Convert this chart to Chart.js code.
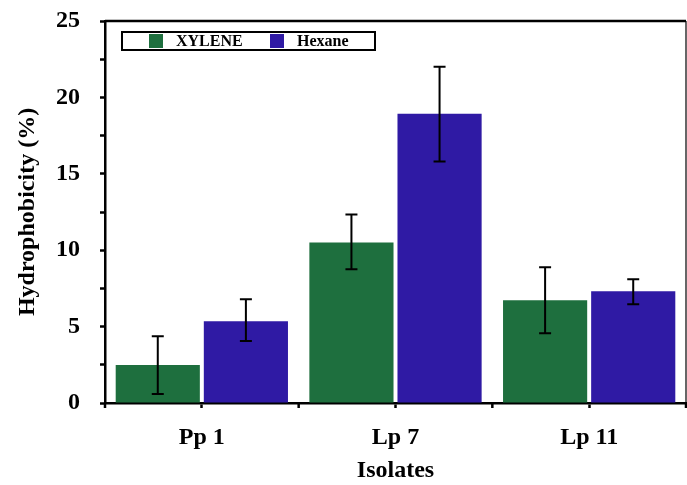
<!DOCTYPE html>
<html>
<head>
<meta charset="utf-8">
<script src="https://cdn.jsdelivr.net/npm/chart.js@4/dist/chart.umd.min.js"></script>
<style>
  html, body { margin: 0; padding: 0; background: #fff; }
  #wrap { width: 687px; height: 485px; }
</style>
</head>
<body>
<div id="wrap"><canvas id="grafico" width="687" height="485"></canvas></div>
<script>
// datos
const isolates = ['Pp 1', 'Lp 7', 'Lp 11'];
const xyleneVals = [2.48, 10.5, 6.72];
const hexaneVals = [5.35, 18.93, 7.31];
// extremos de las barras de error
const xyleneLow = [0.59, 8.75, 4.57];
const xyleneHigh = [4.37, 12.34, 8.88];
const hexaneLow = [4.05, 15.8, 6.46];
const hexaneHigh = [6.79, 22.0, 8.1];
const yTicks = [0, 5, 10, 15, 20, 25];

const fuente = "'Liberation Serif', 'Times New Roman', serif";

// barras de error + marco + marcas del eje x + leyenda dentro del area
const extras = {
    id: 'extras',
    afterDatasetsDraw(chart) {
        const ctx = chart.ctx;
        const y = chart.scales.y;
        const x = chart.scales.x;
        const area = chart.chartArea;
        const errores = [[xyleneLow, xyleneHigh], [hexaneLow, hexaneHigh]];

        ctx.save();
        ctx.strokeStyle = '#000';
        ctx.lineWidth = 2;
        errores.forEach((par, d) => {
            const meta = chart.getDatasetMeta(d);
            meta.data.forEach((bar, i) => {
                const yl = y.getPixelForValue(par[0][i]);
                const yh = y.getPixelForValue(par[1][i]);
                ctx.beginPath();
                ctx.moveTo(bar.x, yl); ctx.lineTo(bar.x, yh);
                ctx.moveTo(bar.x - 6, yl); ctx.lineTo(bar.x + 6, yl);
                ctx.moveTo(bar.x - 6, yh); ctx.lineTo(bar.x + 6, yh);
                ctx.stroke();
            });
        });

        // marco superior y derecho
        ctx.lineWidth = 2.5;
        ctx.beginPath();
        ctx.moveTo(area.left, area.top); ctx.lineTo(area.right, area.top);
        ctx.stroke();
        ctx.lineWidth = 1.2;
        ctx.beginPath();
        ctx.moveTo(area.right, area.top); ctx.lineTo(area.right, area.bottom);
        ctx.stroke();

        // marcas en los limites de cada categoria
        ctx.lineWidth = 2.5;
        for (let i = 0; i <= isolates.length; i++) {
            const px = i === 0 ? area.left : (i === isolates.length ? area.right
                : (x.getPixelForValue(i - 1) + x.getPixelForValue(i)) / 2);
            ctx.beginPath();
            ctx.moveTo(px, area.bottom); ctx.lineTo(px, area.bottom + 5);
            ctx.stroke();
        }

        // leyenda
        const lx = area.left + 17, ly = area.top + 11, lw = 253, lh = 18;
        ctx.fillStyle = '#fff';
        ctx.fillRect(lx, ly, lw, lh);
        ctx.lineWidth = 2;
        ctx.strokeRect(lx, ly, lw, lh);
        ctx.font = 'bold 16px ' + fuente;
        ctx.textBaseline = 'middle';
        const posiciones = [27, 148];
        chart.data.datasets.forEach((ds, d) => {
            const sx = lx + posiciones[d];
            ctx.fillStyle = ds.backgroundColor;
            ctx.fillRect(sx, ly + 2, 14, 14);
            ctx.fillStyle = '#000';
            ctx.fillText(ds.label, sx + 27, ly + lh / 2 + 1);
        });
        ctx.restore();
    }
};

new Chart(document.getElementById('grafico'), {
    type: 'bar',
    data: {
        labels: isolates,
        datasets: [{
            label: 'XYLENE',
            data: xyleneVals,
            backgroundColor: '#1e6f3e',
            categoryPercentage: 0.91,
            barPercentage: 0.955
        }, {
            label: 'Hexane',
            data: hexaneVals,
            backgroundColor: '#2f1aa4',
            categoryPercentage: 0.91,
            barPercentage: 0.955
        }]
    },
    options: {
        responsive: false,
        maintainAspectRatio: false,
        animation: false,
        layout: { padding: { top: 21, right: 1, left: 13, bottom: 0 } },
        plugins: {
            legend: { display: false },
            tooltip: { enabled: false }
        },
        scales: {
            x: {
                grid: { display: true, drawOnChartArea: false, offset: false, tickLength: 5, tickWidth: 2.5, color: '#000' },
                border: { color: '#000', width: 2.5 },
                ticks: { color: '#000', padding: 15, font: { family: fuente, size: 24, weight: 'bold' } },
                title: { display: true, text: 'Isolates', color: '#000', padding: { top: 5, bottom: 0 }, font: { family: fuente, size: 24, weight: 'bold' } },
                afterFit(scale) { scale.height = 82; }
            },
            y: {
                min: yTicks[0],
                max: yTicks[yTicks.length - 1],
                grid: { display: true, drawOnChartArea: false, tickLength: 5, tickWidth: 2.5, color: '#000' },
                border: { color: '#000', width: 2.5 },
                ticks: {
                    stepSize: 2.5,
                    autoSkip: false,
                    color: '#000',
                    padding: 20,
                    font: { family: fuente, size: 24, weight: 'bold' },
                    callback: (v) => yTicks.includes(v) ? String(v) : ''
                },
                title: { display: true, text: 'Hydrophobicity (%)', color: '#000', padding: { top: 0, bottom: 0 }, font: { family: fuente, size: 24, weight: 'bold' } },
                afterFit(scale) { scale.width = 92; scale.paddingTop = 0; scale.paddingBottom = 0; }
            }
        }
    },
    plugins: [extras]
});
</script>
</body>
</html>
